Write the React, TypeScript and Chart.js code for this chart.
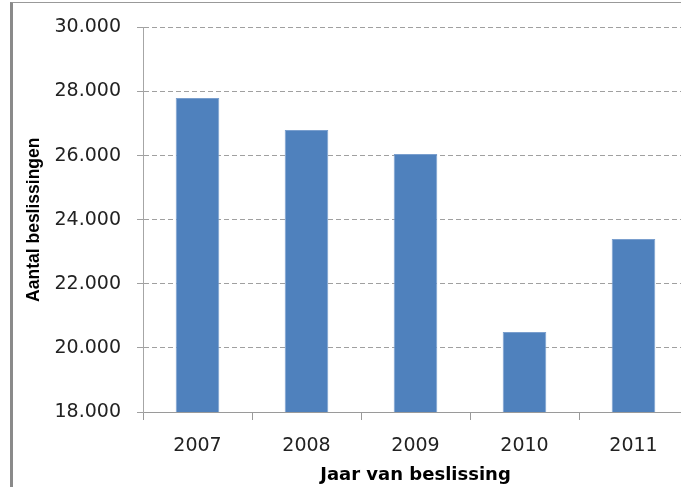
import React, { useEffect, useRef } from "react";
import { Chart, registerables } from "chart.js";

Chart.register(...registerables);

const categories: string[] = ["2007", "2008", "2009", "2010", "2011"];
const values: number[] = [27800, 26800, 26050, 20500, 23400];
const yMin = 18000;
const yMax = 30000;
const yStep = 2000;
const yTitle = "Aantal beslissingen";
const xTitle = "Jaar van beslissing";

function fmt(v: number): string {
  const th = Math.floor(v / 1000);
  const rest = String(Math.round(v % 1000)).padStart(3, "0");
  return th + "." + rest;
}

export default function App() {
  const ref = useRef<HTMLCanvasElement | null>(null);

  useEffect(() => {
    if (!ref.current) return;
    const chart = new Chart(ref.current, {
      type: "bar",
      data: {
        labels: categories,
        datasets: [
          {
            data: values,
            backgroundColor: "#4F81BD",
            borderColor: "#7A9FCE",
            borderWidth: 1,
            barPercentage: 0.4,
            categoryPercentage: 1,
          },
        ],
      },
      options: {
        animation: false,
        responsive: false,
        events: [],
        layout: { padding: { left: 0, top: 25, right: 12, bottom: 0 } },
        plugins: { legend: { display: false }, tooltip: { enabled: false }, title: { display: false } },
        scales: {
          x: {
            offset: true,
            afterFit: (s: any) => {
              s.height = 75;
            },
            grid: {
              display: true,
              offset: true,
              drawOnChartArea: false,
              drawTicks: true,
              tickLength: 8,
              color: "#9a9a9a",
            },
            border: { display: true, color: "#9a9a9a", width: 1 },
            ticks: {
              color: "#222",
              padding: 15,
              font: { family: "DejaVu Sans", size: 19 },
            },
            title: {
              display: true,
              text: xTitle,
              color: "#000",
              padding: { top: 0, bottom: 1 },
              font: { family: "DejaVu Sans", size: 18, weight: "bold" },
            },
          },
          y: {
            min: yMin,
            max: yMax,
            afterFit: (s: any) => {
              s.width = 143;
            },
            grid: {
              color: "#a0a0a0",
              lineWidth: 1,
              tickLength: 6,
              tickBorderDash: [],
              tickColor: "#a0a0a0",
            } as any,
            border: { display: true, color: "#a6a6a6", width: 1, dash: [5, 3] } as any,
            ticks: {
              stepSize: yStep,
              color: "#222",
              padding: 16,
              font: { family: "DejaVu Sans", size: 19 },
              callback: (v: any) => fmt(Number(v)),
            },
            title: {
              display: true,
              text: yTitle,
              color: "#000",
              padding: { top: 23.5, bottom: 0 },
              font: { family: "Liberation Sans", size: 17.5, weight: "bold" },
            },
          },
        },
      } as any,
    });
    return () => chart.destroy();
  }, []);

  return (
    <div
      style={{
        position: "fixed",
        left: 0,
        top: 0,
        width: 681,
        height: 487,
        overflow: "hidden",
        background: "#fff",
      }}
    >
      <div
        style={{
          position: "absolute",
          left: 10,
          top: 2,
          width: 720,
          height: 600,
          borderLeft: "3px solid #8a8a8a",
          borderTop: "1px solid #999",
        }}
      />
      <canvas
        ref={ref}
        width={700}
        height={487}
        style={{ position: "absolute", left: 0, top: 0, width: 700, height: 487 }}
      />
    </div>
  );
}
